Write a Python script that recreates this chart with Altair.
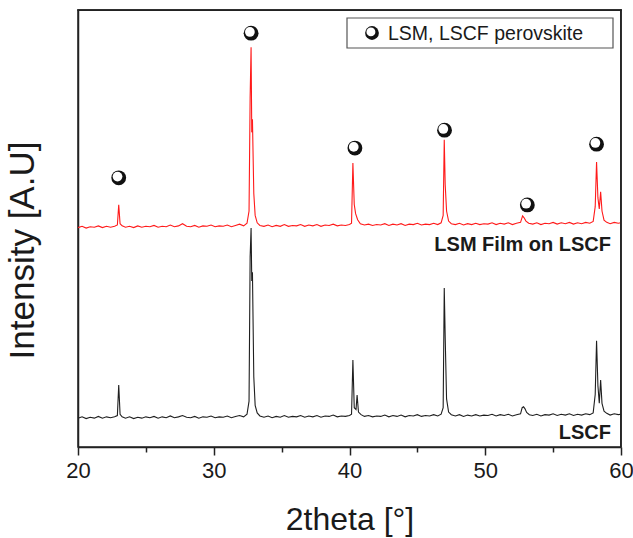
import altair as alt
import pandas as pd

FONT = "Liberation Sans"

# ---- data ----
red_x = [20.0, 20.3, 20.6, 20.9, 21.2, 21.5, 21.8, 22.1, 22.4, 22.7, 22.9, 23.0, 23.1, 23.25,
         23.5, 23.8, 24.1, 24.4, 24.7, 25.0, 25.3, 25.6, 25.9, 26.2, 26.5, 26.8, 27.1, 27.4,
         27.7, 28.0, 28.3, 28.6, 28.9, 29.2, 29.5, 29.8, 30.1, 30.4, 30.7, 31.0, 31.3, 31.6,
         31.9, 32.2, 32.45, 32.6, 32.68, 32.75, 32.8, 32.85, 32.95, 33.05, 33.2, 33.4, 33.7,
         34.0, 34.3, 34.6, 34.9, 35.2, 35.5, 35.8, 36.1, 36.4, 36.7, 37.0, 37.3, 37.6, 37.9,
         38.2, 38.5, 38.8, 39.1, 39.4, 39.7, 40.0, 40.15, 40.25, 40.35, 40.45, 40.6, 40.8,
         41.1, 41.4, 41.7, 42.0, 42.3, 42.6, 42.9, 43.2, 43.5, 43.8, 44.1, 44.4, 44.7, 45.0,
         45.3, 45.6, 45.9, 46.2, 46.5, 46.75, 46.9, 46.98, 47.05, 47.15, 47.3, 47.5, 47.8,
         48.1, 48.4, 48.7, 49.0, 49.3, 49.6, 49.9, 50.2, 50.5, 50.8, 51.1, 51.4, 51.7, 52.0,
         52.3, 52.6, 52.75, 52.85, 53.0, 53.2, 53.5, 53.8, 54.1, 54.4, 54.7, 55.0, 55.3, 55.6,
         55.9, 56.2, 56.5, 56.8, 57.1, 57.4, 57.7, 57.95, 58.1, 58.2, 58.3, 58.4, 58.5, 58.6,
         58.75, 58.95, 59.2, 59.5, 59.8, 60.0]
red_y = [50.2, 50.5, 50.1, 50.4, 50.3, 50.6, 50.2, 50.5, 50.3, 50.5, 50.8, 55.4, 51.1, 50.6,
         50.3, 50.5, 50.2, 50.6, 50.3, 50.5, 50.4, 50.7, 50.3, 50.5, 50.4, 50.8, 50.4, 50.6,
         51.1, 50.5, 50.4, 50.7, 50.3, 50.6, 50.5, 50.8, 50.4, 50.6, 50.5, 50.8, 50.4, 50.7,
         51.0, 50.6, 51.2, 54.0, 80.0, 91.5, 72.0, 75.0, 58.0, 53.0, 51.3, 50.7, 50.5,
         50.8, 50.4, 50.7, 50.5, 50.9, 50.5, 50.7, 50.6, 50.9, 50.5, 50.8, 50.6, 50.9, 50.5,
         50.8, 50.7, 51.0, 50.6, 50.8, 50.7, 50.9, 51.2, 65.0, 55.5, 53.4, 52.0, 51.1,
         50.8, 51.0, 50.7, 50.9, 50.8, 51.1, 50.7, 51.0, 50.8, 51.1, 50.7, 51.0, 50.9, 51.2,
         50.8, 51.0, 50.9, 51.2, 50.9, 51.3, 53.0, 70.3, 60.0, 54.0, 51.7, 51.1, 50.9,
         51.2, 50.8, 51.1, 50.9, 51.2, 50.9, 51.1, 51.0, 51.3, 50.9, 51.2, 51.0, 51.3, 50.9,
         51.2, 51.4, 52.9, 52.5, 51.7, 51.2, 51.0, 51.3, 50.9, 51.2, 51.1, 51.4, 51.0, 51.3,
         51.1, 51.4, 51.0, 51.3, 51.1, 51.4, 51.2, 51.6, 55.0, 65.2, 57.0, 54.5, 58.4, 54.0,
         51.9, 51.4, 51.1, 51.4, 51.2, 51.3]

black_x = [20.0, 20.3, 20.6, 20.9, 21.2, 21.5, 21.8, 22.1, 22.4, 22.7, 22.9, 23.0, 23.1, 23.25,
           23.5, 23.8, 24.1, 24.4, 24.7, 25.0, 25.3, 25.6, 25.9, 26.2, 26.5, 26.8, 27.1, 27.4,
           27.7, 28.0, 28.3, 28.6, 28.9, 29.2, 29.5, 29.8, 30.1, 30.4, 30.7, 31.0, 31.3, 31.6,
           31.9, 32.2, 32.45, 32.6, 32.68, 32.75, 32.8, 32.85, 32.95, 33.05, 33.2, 33.4, 33.7,
           34.0, 34.3, 34.6, 34.9, 35.2, 35.5, 35.8, 36.1, 36.4, 36.7, 37.0, 37.3, 37.6, 37.9,
           38.2, 38.5, 38.8, 39.1, 39.4, 39.7, 40.0, 40.15, 40.25, 40.35, 40.48, 40.56, 40.66,
           40.85, 41.1, 41.4, 41.7, 42.0, 42.3, 42.6, 42.9, 43.2, 43.5, 43.8, 44.1, 44.4, 44.7,
           45.0, 45.3, 45.6, 45.9, 46.2, 46.5, 46.75, 46.9, 46.98, 47.05, 47.15, 47.3, 47.5,
           47.8, 48.1, 48.4, 48.7, 49.0, 49.3, 49.6, 49.9, 50.2, 50.5, 50.8, 51.1, 51.4, 51.7,
           52.0, 52.3, 52.6, 52.72, 52.82, 52.92, 53.05, 53.25, 53.5, 53.8, 54.1, 54.4, 54.7,
           55.0, 55.3, 55.6, 55.9, 56.2, 56.5, 56.8, 57.1, 57.4, 57.7, 57.95, 58.1, 58.2, 58.3,
           58.4, 58.5, 58.6, 58.75, 58.95, 59.2, 59.5, 59.8, 60.0]
black_y = [6.6, 6.9, 6.5, 6.8, 6.6, 7.0, 6.6, 6.9, 6.7, 6.9, 7.2, 14.2, 7.5, 6.9,
           6.6, 6.9, 6.5, 6.8, 6.6, 6.9, 6.7, 7.0, 6.6, 6.9, 6.7, 7.1, 6.7, 6.9,
           7.2, 6.8, 6.7, 7.0, 6.6, 6.9, 6.8, 7.1, 6.7, 6.9, 6.8, 7.1, 6.7, 7.0,
           7.2, 6.9, 7.5, 10.5, 43.5, 50.1, 38.0, 40.0, 16.0, 9.5, 7.8, 7.1, 6.8,
           7.1, 6.7, 7.0, 6.8, 7.2, 6.8, 7.0, 6.9, 7.2, 6.8, 7.1, 6.9, 7.2, 6.8,
           7.1, 7.0, 7.3, 6.9, 7.1, 7.0, 7.2, 7.5, 19.9, 9.0, 8.6, 11.9, 8.0,
           7.4, 7.0, 7.2, 6.9, 7.1, 7.0, 7.3, 6.9, 7.2, 7.0, 7.3, 6.9, 7.2, 7.1,
           7.4, 7.0, 7.2, 7.1, 7.4, 7.1, 7.5, 9.0, 36.4, 25.0, 11.0, 8.0, 7.4,
           7.1, 7.4, 7.0, 7.3, 7.1, 7.4, 7.1, 7.3, 7.2, 7.5, 7.1, 7.4, 7.2, 7.5,
           7.1, 7.4, 7.6, 9.0, 9.2, 8.8, 7.9, 7.4, 7.2, 7.5, 7.1, 7.4, 7.3,
           7.6, 7.2, 7.5, 7.3, 7.6, 7.2, 7.5, 7.3, 7.6, 7.4, 7.8, 12.0, 24.3, 14.0,
           10.0, 15.3, 10.0, 8.2, 7.7, 7.3, 7.6, 7.4, 7.5]

marker_x = [23.0, 32.75, 40.4, 47.0, 53.1, 58.2]
marker_y = [61.6, 94.7, 68.4, 72.5, 55.4, 69.3]

x_ticks = [20, 25, 30, 35, 40, 45, 50, 55, 60]
x_range = [20, 60]
y_range = [0, 100]

legend_label = "LSM, LSCF perovskite"
label_film = "LSM Film on LSCF"
label_lscf = "LSCF"

# ---- chart ----
red = pd.DataFrame({"x": red_x, "y": red_y})
black = pd.DataFrame({"x": black_x, "y": black_y})
markers = pd.DataFrame({"x": marker_x, "y": marker_y})
one = pd.DataFrame({"t": [0]})

W, H = 543, 437
FRAME = "#222222"

xs = alt.Scale(domain=x_range, nice=False, zero=False)
ys = alt.Scale(domain=y_range, nice=False, zero=False)

x_axis = alt.Axis(
    values=x_ticks,
    labelExpr="datum.value % 10 === 0 ? datum.label : ''",
    title="2theta [°]",
    titleFontSize=32, titleFontWeight="normal", titlePadding=23,
    titleColor="#1a1a1a", titleFont=FONT,
    labelFontSize=22, labelPadding=5, labelColor="#1a1a1a", labelFont=FONT,
    labelFlush=False,
    tickSize={"condition": {"test": "datum.value % 10 === 0", "value": 8}, "value": 5},
    tickWidth=1.5, tickColor=FRAME,
    domainColor=FRAME, domainWidth=1.5, grid=False,
)
y_axis = alt.Axis(
    title="Intensity [A.U]", ticks=False, labels=False, grid=False,
    titleFontSize=35, titleFontWeight="normal", titlePadding=38,
    titleY=240,
    titleColor="#1a1a1a", titleFont=FONT,
    domainColor=FRAME, domainWidth=1.5,
)

black_line = alt.Chart(black).mark_line(color="#1f1f1f", strokeWidth=1.1).encode(
    x=alt.X("x:Q", scale=xs, axis=x_axis), y=alt.Y("y:Q", scale=ys, axis=y_axis))
red_line = alt.Chart(red).mark_line(color="#ff1a1a", strokeWidth=1.1).encode(
    x="x:Q", y="y:Q")

m_outer = alt.Chart(markers).mark_point(
    shape="circle", filled=True, color="#111111", size=220, opacity=1).encode(
    x="x:Q", y="y:Q")
m_inner = alt.Chart(markers).mark_point(
    shape="circle", filled=True, color="white", size=95, opacity=1,
    xOffset=-1.2, yOffset=-1.2).encode(x="x:Q", y="y:Q")

# top and right frame edges as thin filled bars (pixel positions in the plot area)
top_bar = alt.Chart(one).mark_rect(fill=FRAME, opacity=1, strokeWidth=0).encode(
    x=alt.value(-0.75), x2=alt.value(W + 0.75), y=alt.value(-0.75), y2=alt.value(0.9))
right_bar = alt.Chart(one).mark_rect(fill=FRAME, opacity=1, strokeWidth=0).encode(
    x=alt.value(W - 0.9), x2=alt.value(W + 0.75), y=alt.value(-0.75), y2=alt.value(H))

# legend box and annotations (pixel positions inside the plot area)
legend_box = alt.Chart(one).mark_rect(
    fill="white", stroke="#555555", strokeWidth=1.2).encode(
    x=alt.value(269), x2=alt.value(535), y=alt.value(8), y2=alt.value(38))
leg_outer = alt.Chart(one).mark_point(
    shape="circle", filled=True, color="#111111", size=190, opacity=1).encode(
    x=alt.value(294), y=alt.value(23))
leg_inner = alt.Chart(one).mark_point(
    shape="circle", filled=True, color="white", size=80, opacity=1,
    xOffset=-1.1, yOffset=-1.1).encode(x=alt.value(294), y=alt.value(23))
leg_text = alt.Chart(one).mark_text(
    text=legend_label, font=FONT, fontSize=19.5, color="#1a1a1a",
    align="left", baseline="middle").encode(x=alt.value(310), y=alt.value(24))

film_text = alt.Chart(one).mark_text(
    text=label_film, font=FONT, fontSize=20, fontWeight="bold", color="#1a1a1a",
    align="right", baseline="middle").encode(x=alt.value(533), y=alt.value(235))
lscf_text = alt.Chart(one).mark_text(
    text=label_lscf, font=FONT, fontSize=20, fontWeight="bold", color="#1a1a1a",
    align="right", baseline="middle").encode(x=alt.value(533), y=alt.value(423))

chart = alt.layer(
    black_line, red_line, m_outer, m_inner,
    legend_box, leg_outer, leg_inner, leg_text, film_text, lscf_text,
    top_bar, right_bar,
).properties(
    width=W, height=H,
    autosize=alt.AutoSizeParams(type="none"),
    padding={"left": 78, "top": 10, "right": 12, "bottom": 91},
    background="white",
).configure(
    font=FONT,
    view=alt.ViewConfig(stroke=FRAME, strokeWidth=1.5),
)

chart.save("out.html", embed_options={"renderer": "svg", "actions": False})
